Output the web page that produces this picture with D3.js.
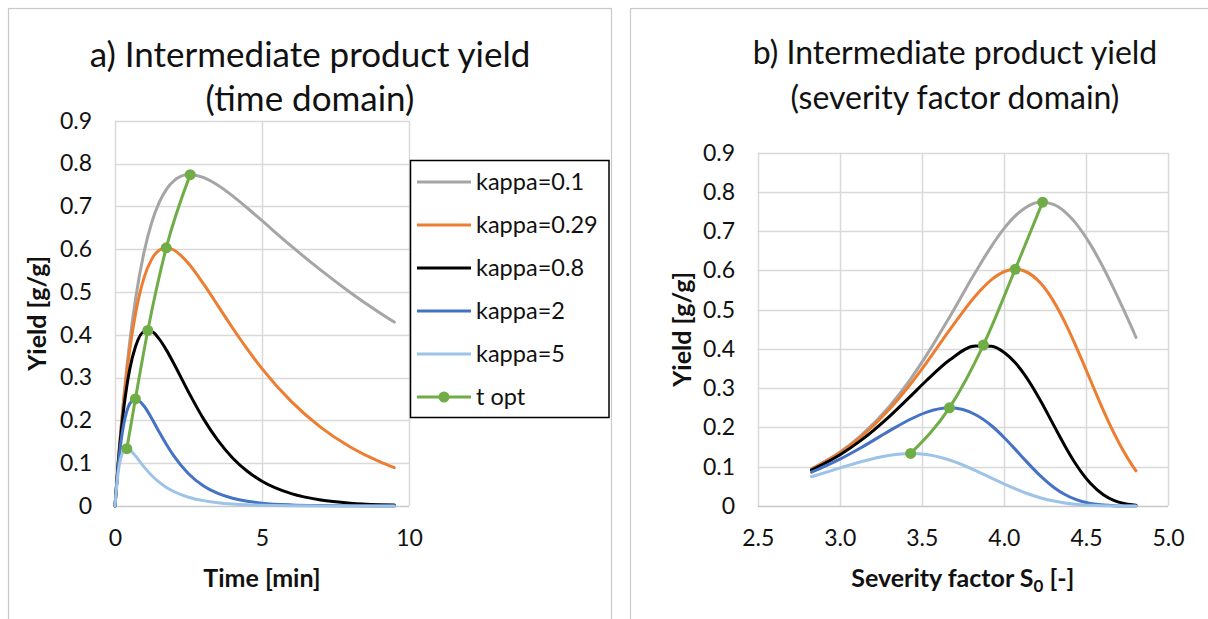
<!DOCTYPE html>
<html>
<head>
<meta charset="utf-8">
<script src="https://cdn.jsdelivr.net/npm/d3@7"></script>
<style>
  body { margin: 0; background: #fff; }
  svg { display: block; }
  text { font-family: Lato, "Open Sans", sans-serif; fill: #111; }
</style>
</head>
<body>
<svg id="chart" width="1208" height="619"></svg>
<script>
// Reaction time samples [min] and the matching severity factor S0 [-]
const timeMin  = [0, 0.1, 0.15, 0.2, 0.3, 0.4, 0.5, 0.7, 1, 1.25, 1.5, 1.75, 2, 2.5, 3, 3.5, 4, 4.5, 5, 6, 7, 8, 9, 9.5];
const severity = [null, 2.828, 3.004, 3.129, 3.305, 3.430, 3.527, 3.673, 3.828, 3.925, 4.004, 4.071, 4.129, 4.226, 4.305, 4.372, 4.430, 4.481, 4.527, 4.606, 4.673, 4.731, 4.782, 4.805];

// Intermediate product yield [g/g] for each kappa
const yieldKappa01  = [0, 0.0947, 0.1382, 0.1794, 0.2551, 0.3227, 0.3830, 0.4842, 0.5966, 0.6622, 0.7084, 0.7397, 0.7593, 0.7741, 0.7678, 0.7494, 0.7245, 0.6961, 0.6664, 0.6070, 0.5508, 0.4989, 0.4516, 0.4296];
const yieldKappa029 = [0, 0.0938, 0.1362, 0.1759, 0.2477, 0.3101, 0.3641, 0.4503, 0.5358, 0.5767, 0.5974, 0.6031, 0.5980, 0.5665, 0.5200, 0.4679, 0.4157, 0.3663, 0.3209, 0.2437, 0.1837, 0.1379, 0.1034, 0.0895];
const yieldKappa08  = [0, 0.0914, 0.1311, 0.1671, 0.2291, 0.2792, 0.3190, 0.3731, 0.4073, 0.4069, 0.3903, 0.3641, 0.3328, 0.2663, 0.2047, 0.1531, 0.1122, 0.0811, 0.0579, 0.0288, 0.0139, 0.0066, 0.0031, 0.0021];
const yieldKappa2   = [0, 0.0861, 0.1199, 0.1484, 0.1920, 0.2210, 0.2387, 0.2500, 0.2325, 0.2044, 0.1733, 0.1436, 0.1170, 0.0754, 0.0473, 0.0293, 0.0180, 0.0110, 0.0067, 0.0025, 0.0009, 0.0003, 0.0001, 0.0001];
const yieldKappa5   = [0, 0.0746, 0.0971, 0.1127, 0.1294, 0.1338, 0.1311, 0.1166, 0.0903, 0.0711, 0.0556, 0.0434, 0.0338, 0.0205, 0.0125, 0.0076, 0.0046, 0.0028, 0.0017, 0.0006, 0.0002, 0.0001, 0.0000, 0.0000];

// Optimal reaction time (maximum yield) for each kappa
const optTime     = [0.402, 0.693, 1.116, 1.743, 2.558];
const optSeverity = [3.432, 3.668, 3.875, 4.069, 4.236];
const optYield    = [0.134, 0.250, 0.410, 0.603, 0.774];

const seriesNames  = ["kappa=0.1", "kappa=0.29", "kappa=0.8", "kappa=2", "kappa=5"];
const seriesColors = ["#A5A5A5", "#ED7D31", "#000000", "#4472C4", "#9DC3E6"];
const optName  = "t opt";
const optColor = "#70AD47";

const yTicks = [0, 0.1, 0.2, 0.3, 0.4, 0.5, 0.6, 0.7, 0.8, 0.9];
const timeTicks = [0, 5, 10];
const severityTicks = [2.5, 3.0, 3.5, 4.0, 4.5, 5.0];

const yieldSeries = [yieldKappa01, yieldKappa029, yieldKappa08, yieldKappa2, yieldKappa5];

const svg = d3.select("#chart");

function drawPanel(cfg) {
  const g = svg.append("g");

  // panel frame (extends past the bottom / right edges of the page)
  g.append("rect")
    .attr("x", cfg.frame[0] + 0.5).attr("y", 8.5)
    .attr("width", cfg.frame[1]).attr("height", 700)
    .attr("fill", "#fff").attr("stroke", "#C8C8C8").attr("stroke-width", 1.2);

  const x = d3.scaleLinear().domain(cfg.xDomain).range(cfg.xRange);
  const y = d3.scaleLinear().domain([0, 0.9]).range(cfg.yRange);

  // gridlines
  g.append("g").selectAll("line.h").data(yTicks.slice(1)).join("line")
    .attr("x1", cfg.xRange[0]).attr("x2", cfg.xRange[1])
    .attr("y1", d => Math.round(y(d)) + 0.5).attr("y2", d => Math.round(y(d)) + 0.5)
    .attr("stroke", "#D9D9D9").attr("stroke-width", 1.5);
  g.append("g").selectAll("line.v").data(cfg.xTicks).join("line")
    .attr("x1", d => Math.round(x(d)) + 0.5).attr("x2", d => Math.round(x(d)) + 0.5)
    .attr("y1", cfg.yRange[1]).attr("y2", cfg.yRange[0])
    .attr("stroke", "#D9D9D9").attr("stroke-width", 1.5);

  // horizontal axis line
  g.append("line")
    .attr("x1", cfg.xRange[0]).attr("x2", cfg.xRange[1])
    .attr("y1", Math.round(y(0)) + 0.5).attr("y2", Math.round(y(0)) + 0.5)
    .attr("stroke", "#C8C8C8").attr("stroke-width", 1.5);

  // y axis tick labels
  const yAxis = d3.axisLeft(y).tickValues(yTicks).tickSize(0).tickPadding(0)
    .tickFormat(d => d === 0 ? "0" : d3.format(".1f")(d));
  const ya = g.append("g").attr("transform", `translate(${cfg.yLabelX},0)`).call(yAxis);
  ya.select(".domain").remove();
  ya.selectAll("text").attr("font-size", 23).attr("font-family", "Lato").attr("fill", "#111");

  // x axis tick labels
  const xAxis = d3.axisBottom(x).tickValues(cfg.xTicks).tickSize(0).tickPadding(0)
    .tickFormat(cfg.xFormat);
  const xa = g.append("g").attr("transform", `translate(0,${cfg.xLabelY})`).call(xAxis);
  xa.select(".domain").remove();
  xa.selectAll("text").attr("font-size", 23).attr("font-family", "Lato").attr("fill", "#111")
    .attr("dy", "0.35em");

  // series
  const line = d3.line()
    .defined(d => d[0] != null)
    .x(d => x(d[0])).y(d => y(d[1]))
    .curve(d3.curveMonotoneX);

  yieldSeries.forEach((vals, i) => {
    const pts = cfg.xValues.map((xv, j) => [xv, vals[j]]);
    g.append("path").datum(pts)
      .attr("fill", "none").attr("stroke", seriesColors[i])
      .attr("stroke-width", 3).attr("stroke-linejoin", "round").attr("stroke-linecap", "round")
      .attr("d", line);
  });

  const opt = cfg.optX.map((xv, j) => [xv, optYield[j]]);
  g.append("path").datum(opt)
    .attr("fill", "none").attr("stroke", optColor).attr("stroke-width", 3)
    .attr("stroke-linejoin", "round").attr("d", line);
  g.append("g").selectAll("circle").data(opt).join("circle")
    .attr("cx", d => x(d[0])).attr("cy", d => y(d[1])).attr("r", 5.5)
    .attr("fill", optColor);

  // titles
  const title = g.append("text").attr("text-anchor", "middle").attr("font-size", cfg.titleSize);
  title.append("tspan").attr("x", cfg.titleX).attr("y", cfg.titleY[0]).text(cfg.title[0]);
  title.append("tspan").attr("x", cfg.titleX).attr("y", cfg.titleY[1]).text(cfg.title[1]);

  // axis titles
  const xt = g.append("text").attr("text-anchor", "middle").attr("font-weight", "bold")
    .attr("font-size", 25).attr("x", (cfg.xRange[0] + cfg.xRange[1]) / 2).attr("y", cfg.xTitleY);
  if (cfg.xTitleSub) {
    xt.append("tspan").text(cfg.xTitle);
    xt.append("tspan").attr("font-size", 17).attr("dy", 5).text(cfg.xTitleSub);
    xt.append("tspan").attr("dy", -5).text(" [-]");
  } else {
    xt.text(cfg.xTitle);
  }
  g.append("text").attr("text-anchor", "middle").attr("font-weight", "bold")
    .attr("font-size", 25)
    .attr("transform", `translate(${cfg.yTitleX},${(cfg.yRange[0] + cfg.yRange[1]) / 2}) rotate(-90)`)
    .attr("dy", "0.35em")
    .text("Yield [g/g]");
}

drawPanel({
  frame: [8, 603],
  xDomain: [0, 10], xRange: [115, 409], yRange: [506, 120.7],
  xTicks: timeTicks, xFormat: d3.format("d"),
  xValues: timeMin, optX: optTime,
  yLabelX: 92, xLabelY: 538,
  title: ["a) Intermediate product yield", "(time domain)"],
  titleX: 310, titleY: [67, 111], titleSize: 35,
  xTitle: "Time [min]", xTitleY: 587, yTitleX: 37
});

drawPanel({
  frame: [630, 700],
  xDomain: [2.5, 5.0], xRange: [757.7, 1168], yRange: [506, 152.7],
  xTicks: severityTicks, xFormat: d3.format(".1f"),
  xValues: severity, optX: optSeverity,
  yLabelX: 735, xLabelY: 538,
  title: ["b) Intermediate product yield", "(severity factor domain)"],
  titleX: 955, titleY: [64, 109], titleSize: 32,
  xTitle: "Severity factor S", xTitleSub: "0", xTitleY: 587, yTitleX: 682
});

// legend for the time-domain panel
const legend = svg.append("g");
legend.append("rect").attr("x", 410.5).attr("y", 160.5).attr("width", 198.5).attr("height", 257)
  .attr("fill", "#fff").attr("stroke", "#000").attr("stroke-width", 1.5);
const legendItems = seriesNames.map((n, i) => ({ name: n, color: seriesColors[i], marker: false }))
  .concat([{ name: optName, color: optColor, marker: true }]);
const rows = legend.selectAll("g.row").data(legendItems).join("g")
  .attr("transform", (d, i) => `translate(0,${182 + i * 43})`);
rows.append("line").attr("x1", 417).attr("x2", 471).attr("y1", 0).attr("y2", 0)
  .attr("stroke", d => d.color).attr("stroke-width", 3);
rows.filter(d => d.marker).append("circle").attr("cx", 444).attr("cy", 0).attr("r", 5.5)
  .attr("fill", d => d.color);
rows.append("text").attr("x", 476).attr("dy", "0.35em").attr("font-size", 23.5).text(d => d.name);
</script>
</body>
</html>
